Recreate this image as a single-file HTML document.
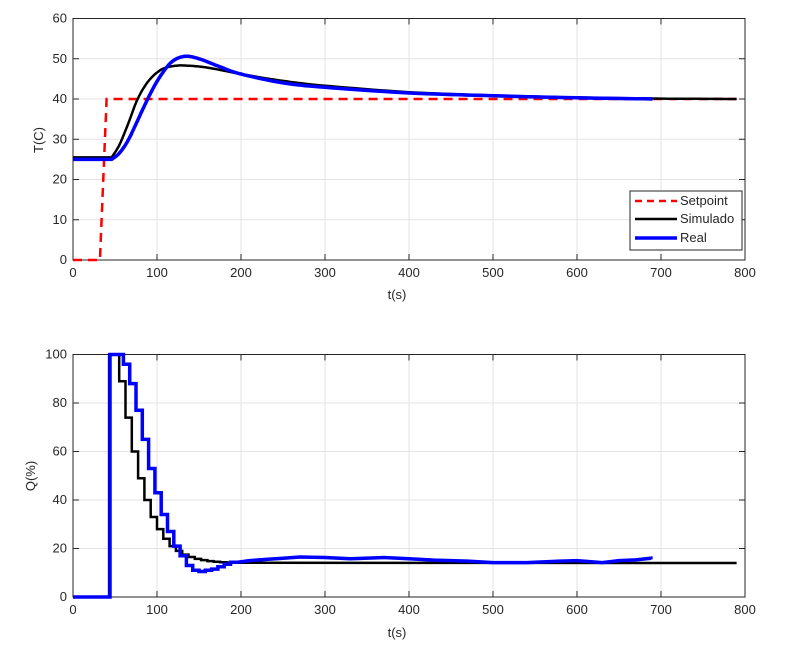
<!DOCTYPE html>
<html><head><meta charset="utf-8"><style>
body{margin:0;background:#fff;}
svg text{font-family:"Liberation Sans",Arial,sans-serif;font-size:13px;fill:#262626;}
</style></head><body>
<svg id="s" width="797" height="660" xmlns="http://www.w3.org/2000/svg">
<rect width="797" height="660" fill="#fff"/>
<g id="g"></g>
<text x="397" y="299" text-anchor="middle" font-size="14">t(s)</text>
<text x="397" y="637" text-anchor="middle" font-size="14">t(s)</text>
<text transform="translate(43,140) rotate(-90)" text-anchor="middle" font-size="14">T(C)</text>
<text transform="translate(35,476) rotate(-90)" text-anchor="middle" font-size="14">Q(%)</text>
</svg>
<script>
var NS="http://www.w3.org/2000/svg",g=document.getElementById('g');
function el(t,a,txt){var e=document.createElementNS(NS,t);for(var k in a)e.setAttribute(k,a[k]);if(txt!=null)e.textContent=txt;g.appendChild(e);return e;}
var X0=73,X1=745;
function ax(top,bot,ymax,ystep){
 el('rect',{x:X0,y:top,width:X1-X0,height:bot-top,fill:'#fff'});
 for(var t=0;t<=800;t+=100){var x=X0+(X1-X0)*t/800;
  if(t>0&&t<800)el('line',{x1:x,y1:top,x2:x,y2:bot,stroke:'#e3e3e3'});
  el('line',{x1:x,y1:bot,x2:x,y2:bot-6,stroke:'#262626'});el('line',{x1:x,y1:top,x2:x,y2:top+6,stroke:'#262626'});
  el('text',{x:x,y:bot+17,'text-anchor':'middle'},t);}
 for(var v=0;v<=ymax;v+=ystep){var y=bot-(bot-top)*v/ymax;
  if(v>0&&v<ymax)el('line',{x1:X0,y1:y,x2:X1,y2:y,stroke:'#e3e3e3'});
  el('line',{x1:X0,y1:y,x2:X0+6,y2:y,stroke:'#262626'});el('line',{x1:X1,y1:y,x2:X1-6,y2:y,stroke:'#262626'});
  el('text',{x:X0-6,y:y+4,'text-anchor':'end'},v);}
 el('rect',{x:X0,y:top,width:X1-X0,height:bot-top,fill:'none',stroke:'#262626'});
}
ax(18.5,260,60,10);ax(354.5,597,100,20);
function mp(top,bot,ymax){return function(p){return (X0+(X1-X0)*p[0]/800).toFixed(1)+','+(bot-(bot-top)*p[1]/ymax).toFixed(1);};}
var mT=mp(18.5,260,60),mQ=mp(354.5,597,100);
function smooth(pts){var o=[];for(var i=0;i<pts.length-1;i++){var p0=pts[Math.max(i-1,0)],p1=pts[i],p2=pts[i+1],p3=pts[Math.min(i+2,pts.length-1)];
 for(var s=0;s<10;s++){var u=s/10,u2=u*u,u3=u2*u;
  var f=function(a,b,c,d){return 0.5*(2*b+(-a+c)*u+(2*a-5*b+4*c-d)*u2+(-a+3*b-3*c+d)*u3);};
  o.push([f(p0[0],p1[0],p2[0],p3[0]),f(p0[1],p1[1],p2[1],p3[1])]);}}
 o.push(pts[pts.length-1]);return o;}
function line(pts,m,a){a.points=pts.map(m).join(' ');a.fill='none';el('polyline',a);}
// top
line([[0,0],[32,0],[40,40],[790,40]],mT,{stroke:'#f00','stroke-width':2.5,'stroke-dasharray':'9,6'});
line([[0,25.5],[46,25.5]].concat(smooth([[46,25.5],[55,28.5],[65,33.5],[77,40],[90,44.5],[105,47.3],[120,48.2],[135,48.3],[160,47.8],[200,46.2],[250,44.5],[300,43.3],[400,41.7],[500,40.9],[600,40.4],[700,40.1],[790,40]])),mT,{stroke:'#000','stroke-width':2.5});
line([[0,25],[46,25]].concat(smooth([[46,25],[55,26.5],[65,29.5],[75,33.8],[85,38.3],[95,42.5],[105,46],[118,49.3],[133,50.6],[150,50],[175,48],[200,46.2],[250,44],[300,42.9],[400,41.5],[500,40.8],[600,40.3],[690,40]])),mT,{stroke:'#00f','stroke-width':3.5});
// bottom
function steps(vals,t0,dt){var p=[];var t=t0;for(var i=0;i<vals.length;i++){p.push([t,vals[i]]);t+=dt;p.push([t,vals[i]]);}return p;}
var bq=[[0,0],[43,0],[43,100],[55,100]];
var bv=[89,74,60,49,40,33,28,24,21,19,17.5,16.5,15.7,15.2,14.8,14.5,14.3,14.2,14.1];
bq=bq.concat(steps(bv,55,7.5));bq.push([790,14]);
line(bq,mQ,{stroke:'#000','stroke-width':2.5});
var rq=[[0,0],[44,0],[44,100],[60,100]];
var rv=[96,88,77,65,53,43,34,27,21,17,13,11,10.5,11,11.5,12.5,13.5,14.3];
rq=rq.concat(steps(rv,60,7.5));
var tail=[[195,14.3],[210,15],[230,15.5],[250,16],[270,16.5],[300,16.3],[330,15.8],[370,16.3],[400,15.8],[430,15.2],[470,14.8],[500,14.2],[540,14.2],[580,14.8],[600,15],[630,14.2],[650,15],[670,15.3],[688,16],[688,15.5]];
rq=rq.concat(tail);
line(rq,mQ,{stroke:'#00f','stroke-width':3.5});
// legend
el('rect',{x:630,y:191,width:112,height:59,fill:'#fff',stroke:'#262626'});
el('line',{x1:635,y1:201,x2:677,y2:201,stroke:'#f00','stroke-width':2.5,'stroke-dasharray':'7,5'});
el('line',{x1:635,y1:219,x2:677,y2:219,stroke:'#000','stroke-width':2.5});
el('line',{x1:635,y1:238,x2:677,y2:238,stroke:'#00f','stroke-width':3.5});
el('text',{x:680,y:205,'font-size':12},'Setpoint');
el('text',{x:680,y:223,'font-size':12},'Simulado');
el('text',{x:680,y:242,'font-size':12},'Real');
</script>
</body></html>
